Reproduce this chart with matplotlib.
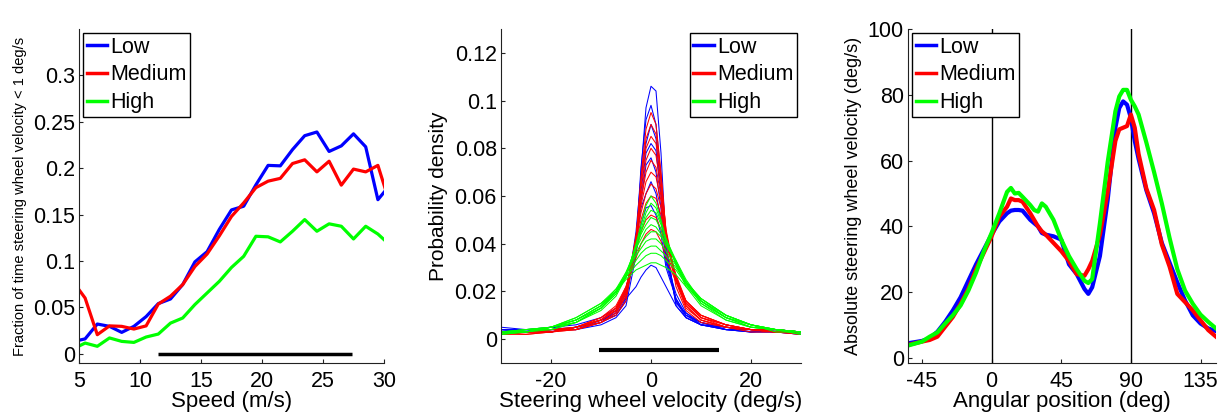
import matplotlib
matplotlib.use('Agg')
import matplotlib.pyplot as plt

plt.rcParams['font.family'] = ['Liberation Sans', 'DejaVu Sans']
plt.rcParams['axes.unicode_minus'] = False

BLUE = (0, 0, 1)
RED = (1, 0, 0)
GREEN = (0, 1, 0)
labels = ['Low', 'Medium', 'High']

# ---- panel 1: fraction of time below 1 deg/s vs speed
speed = [4.5, 5.5, 6.5, 7.5, 8.5, 9.5, 10.5, 11.5, 12.5, 13.5, 14.5, 15.5, 16.5, 17.5,
         18.5, 19.5, 20.5, 21.5, 22.5, 23.5, 24.5, 25.5, 26.5, 27.5, 28.5, 29.5, 30.5]
frac_low = [0.013, 0.016, 0.032, 0.0295, 0.023, 0.0295, 0.040, 0.054, 0.059, 0.0745, 0.099, 0.110,
            0.134, 0.155, 0.159, 0.182, 0.203, 0.2025, 0.220, 0.235, 0.239, 0.218, 0.224, 0.237,
            0.223, 0.166, 0.182]
frac_med = [0.078, 0.060, 0.0205, 0.030, 0.0295, 0.0266, 0.030, 0.0536, 0.062, 0.0745, 0.094, 0.1075,
            0.127, 0.148, 0.1626, 0.179, 0.186, 0.189, 0.205, 0.209, 0.196, 0.2075, 0.1817, 0.199,
            0.196, 0.203, 0.161]
frac_high = [0.005, 0.0115, 0.008, 0.017, 0.0133, 0.0122, 0.018, 0.0212, 0.033, 0.0385, 0.053, 0.0655,
             0.078, 0.093, 0.105, 0.1266, 0.126, 0.1205, 0.132, 0.1446, 0.132, 0.140, 0.1374, 0.1237,
             0.1374, 0.129, 0.117]
speed_bar = [11.5, 27.4]

# ---- panel 2: per-run velocity densities
vel = [-30, -25, -20, -15, -10, -7, -5, -3, -2, -1, 0, 1, 2, 3, 5, 7, 10, 15, 20, 25, 30]
dens_low = [
    [.004, .003, .005, .004, .006, .009, .014, .035, .070, .097, .106, .104, .078, .040, .014, .009, .006, .004, .003, .003, .002],
    [.003, .004, .003, .005, .007, .010, .016, .040, .072, .092, .098, .090, .068, .038, .016, .009, .006, .005, .004, .003, .003],
    [.004, .003, .004, .004, .008, .010, .017, .045, .068, .082, .090, .084, .062, .036, .015, .011, .006, .005, .003, .004, .003],
    [.005, .004, .003, .005, .008, .011, .018, .040, .062, .078, .082, .079, .060, .035, .016, .010, .007, .004, .004, .004, .002],
    [.003, .003, .004, .004, .007, .012, .019, .042, .058, .073, .076, .070, .055, .032, .017, .010, .006, .004, .003, .003, .003],
    [.004, .004, .003, .005, .008, .012, .021, .040, .055, .061, .066, .061, .050, .033, .019, .011, .007, .005, .004, .003, .002],
    [.003, .003, .004, .005, .008, .012, .020, .036, .048, .055, .056, .052, .044, .030, .017, .010, .007, .004, .003, .004, .003],
    [.004, .004, .005, .006, .009, .013, .017, .022, .026, .029, .031, .030, .026, .022, .014, .009, .006, .004, .004, .003, .003],
]
dens_med = [
    [.003, .003, .003, .004, .007, .010, .016, .040, .068, .088, .095, .090, .070, .045, .022, .012, .007, .005, .004, .004, .003],
    [.002, .003, .004, .004, .007, .011, .018, .042, .066, .084, .090, .086, .068, .045, .024, .013, .008, .005, .004, .003, .003],
    [.003, .003, .003, .004, .007, .011, .018, .043, .064, .080, .085, .082, .066, .046, .025, .014, .008, .005, .004, .003, .003],
    [.002, .002, .003, .005, .008, .012, .019, .042, .060, .075, .080, .077, .063, .044, .025, .014, .008, .005, .003, .003, .002],
    [.003, .003, .004, .004, .008, .012, .020, .043, .058, .070, .075, .072, .060, .043, .026, .015, .009, .005, .004, .004, .003],
    [.003, .003, .003, .005, .008, .012, .020, .042, .056, .066, .070, .068, .058, .042, .026, .015, .009, .006, .004, .003, .003],
    [.002, .003, .004, .005, .008, .013, .021, .041, .053, .061, .065, .063, .055, .041, .027, .016, .009, .006, .004, .003, .002],
    [.003, .002, .003, .005, .008, .013, .021, .040, .050, .057, .060, .059, .052, .040, .026, .016, .010, .006, .004, .003, .003],
    [.003, .003, .004, .005, .009, .013, .022, .037, .045, .050, .052, .051, .046, .037, .025, .016, .010, .006, .004, .004, .003],
    [.003, .003, .003, .005, .009, .014, .022, .034, .040, .044, .046, .045, .041, .034, .024, .016, .010, .006, .004, .003, .003],
]
dens_high = [
    [.003, .004, .005, .007, .013, .019, .026, .040, .048, .056, .060, .057, .050, .042, .031, .022, .014, .008, .005, .004, .003],
    [.003, .003, .005, .007, .012, .018, .026, .039, .046, .053, .057, .055, .049, .042, .032, .023, .015, .008, .005, .004, .003],
    [.002, .003, .004, .007, .013, .019, .027, .039, .045, .051, .054, .053, .048, .042, .033, .024, .015, .009, .006, .004, .002],
    [.003, .003, .005, .008, .013, .020, .027, .038, .044, .048, .051, .050, .046, .041, .032, .024, .016, .009, .005, .004, .003],
    [.002, .004, .004, .007, .013, .020, .028, .038, .042, .046, .048, .047, .044, .040, .032, .024, .016, .009, .006, .003, .003],
    [.003, .003, .005, .008, .014, .021, .028, .036, .040, .043, .045, .045, .043, .039, .033, .025, .016, .009, .005, .004, .002],
    [.003, .004, .005, .008, .014, .020, .027, .035, .038, .041, .042, .042, .040, .037, .031, .024, .017, .010, .006, .004, .003],
    [.002, .003, .005, .008, .014, .020, .026, .033, .036, .038, .039, .039, .037, .035, .030, .024, .017, .010, .006, .004, .003],
    [.003, .004, .005, .009, .015, .021, .026, .031, .033, .035, .036, .036, .035, .033, .029, .023, .017, .010, .006, .004, .003],
    [.003, .003, .005, .009, .015, .020, .025, .029, .030, .031, .032, .032, .031, .030, .027, .022, .016, .010, .006, .004, .003],
]
vel_bar = [-10.5, 13.5]

# ---- panel 3: abs steering velocity vs angular position
angle = [-54, -45, -40, -35, -30, -25, -20, -15, -10, -5, 0, 5, 10, 12.5, 15, 17.5, 20, 25, 27.5, 30,
         32.5, 35, 40, 45, 50, 55, 60, 62.5, 65, 70, 75, 80, 82.5, 85, 87.5, 90, 92.5, 95, 100,
         105, 110, 115, 120, 125, 130, 135, 140, 145]
absvel_low = [4.5, 5.2, 6, 8, 11, 14.5, 18.5, 23.5, 28.5, 33, 37.5, 41.5, 44, 44.8, 45, 45, 44.8, 42, 41, 40,
              38, 37.5, 37, 36, 28.5, 25.5, 21, 19.5, 21.5, 31, 48, 70, 76, 78, 77, 73, 66, 60.5, 51,
              44, 35, 29, 23, 17.5, 13, 10.5, 9, 8.2]
absvel_med = [4, 5, 5.5, 6.5, 9.5, 12.5, 16.5, 21, 27, 32, 37, 43, 46, 48.5, 48, 48, 47.5, 44, 42, 40,
              38.5, 37.5, 35, 32.5, 29.5, 25.5, 25, 27, 29.5, 37.5, 50.5, 66, 69.5, 70, 70.5, 74, 70, 62, 51.5,
              45, 34.5, 27.8, 19.5, 17, 14.5, 11.5, 8.5, 6.5]
absvel_high = [3.8, 5, 6.5, 7.8, 10.5, 13, 16, 20.5, 26, 32.5, 38, 44, 50.5, 51.7, 50, 50.2, 49, 46.5, 45, 44.5,
               47, 46, 42, 36, 31, 27, 23.5, 22.8, 24, 41, 59.5, 75, 79.5, 81.5, 81.5, 78.5, 76.5, 74, 65.5,
               56.5, 47, 36.5, 27, 20.5, 16.5, 13.2, 11, 9]
ref_angles = [0, 90]

fig = plt.figure(figsize=(12.21, 4.13), dpi=100)
W, H = 1221, 413
FS = 15.5


def make_ax(x0, x1, y0, y1):
    return fig.add_axes([x0 / W, 1 - y1 / H, (x1 - x0) / W, (y1 - y0) / H])


def style(ax):
    for s in ['top', 'right']:
        ax.spines[s].set_visible(False)
    for s in ['left', 'bottom']:
        ax.spines[s].set_linewidth(0.8)
        ax.spines[s].set_color('#222222')
    ax.tick_params(direction='in', length=3, width=0.8, labelsize=FS, colors='#222222',
                   labelcolor='black')
    ax.tick_params(axis='x', pad=6)
    ax.tick_params(axis='y', pad=3)


def legend(ax, loc):
    lg = ax.legend(loc=loc, fontsize=FS, frameon=True, fancybox=False, framealpha=1,
                   edgecolor='black', handlelength=0.95, handletextpad=0.15, borderpad=0.15,
                   labelspacing=0.32, borderaxespad=0.2)
    lg.get_frame().set_linewidth(1.0)
    for h in lg.get_lines():
        h.set_linewidth(2.5)
    return lg


# panel 1
ax1 = make_ax(79, 384, 29, 363)
style(ax1)
for y, c, lab in zip([frac_low, frac_med, frac_high], [BLUE, RED, GREEN], labels):
    ax1.plot(speed, y, color=c, lw=2.3, label=lab)
ax1.plot(speed_bar, [0, 0], color='black', lw=2.5, solid_capstyle='butt')
ax1.set_xlim(5, 30)
ax1.set_ylim(-0.01, 0.35)
ax1.set_xticks([5, 10, 15, 20, 25, 30])
ax1.set_yticks([0, 0.05, 0.1, 0.15, 0.2, 0.25, 0.3])
ax1.set_yticklabels(['0', '0.05', '0.1', '0.15', '0.2', '0.25', '0.3'])
ax1.set_xlabel('Speed (m/s)', fontsize=16, labelpad=-1)
ax1.set_ylabel('Fraction of time steering wheel velocity < 1 deg/s', fontsize=10.5)
ax1.yaxis.set_label_coords(-0.17, 0.5)
legend(ax1, 'upper left')

# panel 2
ax2 = make_ax(501, 801, 29, 363)
style(ax2)
for group, c in zip([dens_low, dens_med, dens_high], [BLUE, RED, GREEN]):
    for d in group:
        ax2.plot(vel, d, color=c, lw=0.75)
for c, lab in zip([BLUE, RED, GREEN], labels):
    ax2.plot([], [], color=c, label=lab)
ax2.plot(vel_bar, [-0.0045, -0.0045], color='black', lw=3, solid_capstyle='butt')
ax2.set_xlim(-30, 30)
ax2.set_ylim(-0.01, 0.13)
ax2.set_xticks([-20, 0, 20])
ax2.set_yticks([0, 0.02, 0.04, 0.06, 0.08, 0.1, 0.12])
ax2.set_yticklabels(['0', '0.02', '0.04', '0.06', '0.08', '0.1', '0.12'])
ax2.set_xlabel('Steering wheel velocity (deg/s)', fontsize=16, labelpad=-1)
ax2.set_ylabel('Probability density', fontsize=15)
ax2.yaxis.set_label_coords(-0.175, 0.5)
legend(ax2, 'upper right')

# panel 3
ax3 = make_ax(908, 1216, 29, 363)
style(ax3)
for a in ref_angles:
    ax3.axvline(a, color='black', lw=1)
for y, c, lab in zip([absvel_low, absvel_med, absvel_high], [BLUE, RED, GREEN], labels):
    ax3.plot(angle, y, color=c, lw=3, label=lab)
ax3.set_xlim(-54, 145)
ax3.set_ylim(-1.5, 100)
ax3.set_xticks([-45, 0, 45, 90, 135])
ax3.set_yticks([0, 20, 40, 60, 80, 100])
ax3.set_xlabel('Angular position (deg)', fontsize=16, labelpad=-1)
ax3.set_ylabel('Absolute steering wheel velocity (deg/s)', fontsize=13)
ax3.yaxis.set_label_coords(-0.148, 0.5)
legend(ax3, 'upper left')

fig.savefig('out.png', dpi=100)
